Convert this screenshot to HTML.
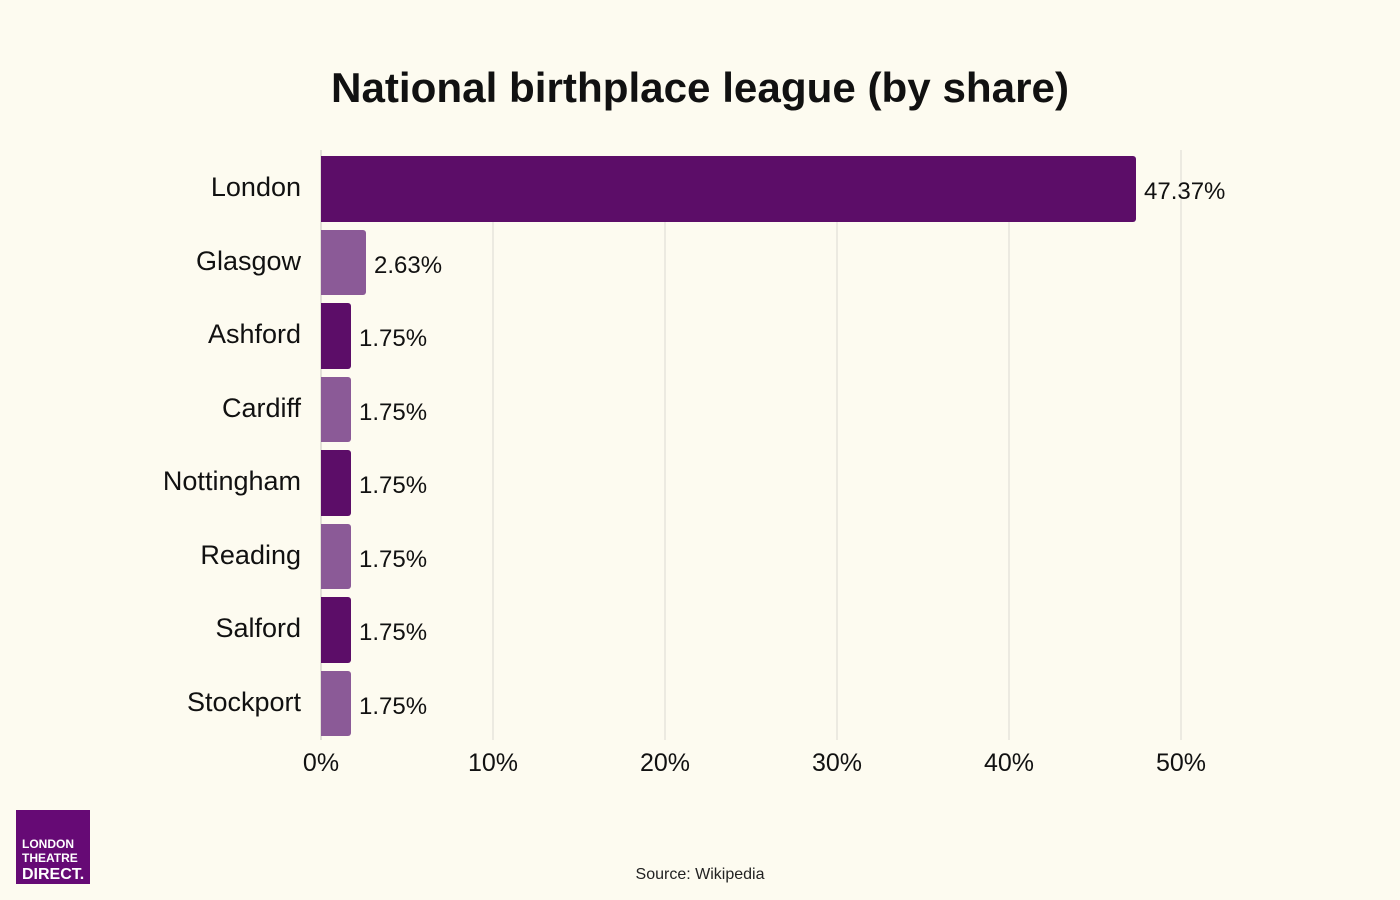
<!DOCTYPE html>
<html><head><meta charset="utf-8"><style>
html,body{margin:0;padding:0;background:#fdfbf0;}
svg{display:block;font-family:"Liberation Sans",sans-serif;}
</style></head><body>
<svg width="1400" height="900" viewBox="0 0 1400 900">
<rect width="1400" height="900" fill="#fdfbf0"/>
<text x="700" y="102" text-anchor="middle" font-size="42" font-weight="bold" fill="#111" textLength="738" lengthAdjust="spacingAndGlyphs">National birthplace league (by share)</text>
<g stroke="#dcdad2" stroke-width="1">
<line x1="493" y1="222" x2="493" y2="740"/>
<line x1="665" y1="222" x2="665" y2="740"/>
<line x1="837" y1="222" x2="837" y2="740"/>
<line x1="1009" y1="222" x2="1009" y2="740"/>
<line x1="1181" y1="150" x2="1181" y2="740"/>
</g>
<line x1="321" y1="150" x2="321" y2="740" stroke="#c8c6be" stroke-width="1"/>
<g>
<path d="M321 156 H1133 a3 3 0 0 1 3 3 V219 a3 3 0 0 1 -3 3 H321Z" fill="#5c0d68"/>
<path d="M321 230 H363 a3 3 0 0 1 3 3 V292 a3 3 0 0 1 -3 3 H321Z" fill="#8b5a97"/>
<path d="M321 303 H348 a3 3 0 0 1 3 3 V366 a3 3 0 0 1 -3 3 H321Z" fill="#5c0d68"/>
<path d="M321 377 H348 a3 3 0 0 1 3 3 V439 a3 3 0 0 1 -3 3 H321Z" fill="#8b5a97"/>
<path d="M321 450 H348 a3 3 0 0 1 3 3 V513 a3 3 0 0 1 -3 3 H321Z" fill="#5c0d68"/>
<path d="M321 524 H348 a3 3 0 0 1 3 3 V586 a3 3 0 0 1 -3 3 H321Z" fill="#8b5a97"/>
<path d="M321 597 H348 a3 3 0 0 1 3 3 V660 a3 3 0 0 1 -3 3 H321Z" fill="#5c0d68"/>
<path d="M321 671 H348 a3 3 0 0 1 3 3 V733 a3 3 0 0 1 -3 3 H321Z" fill="#8b5a97"/>
</g>
<g font-size="27" fill="#111" text-anchor="end">
<text x="301" y="196">London</text>
<text x="301" y="270">Glasgow</text>
<text x="301" y="343">Ashford</text>
<text x="301" y="417">Cardiff</text>
<text x="301" y="490">Nottingham</text>
<text x="301" y="564">Reading</text>
<text x="301" y="637">Salford</text>
<text x="301" y="711">Stockport</text>
</g>
<g font-size="24" fill="#111">
<text x="1144" y="199">47.37%</text>
<text x="374" y="273">2.63%</text>
<text x="359" y="346">1.75%</text>
<text x="359" y="420">1.75%</text>
<text x="359" y="493">1.75%</text>
<text x="359" y="567">1.75%</text>
<text x="359" y="640">1.75%</text>
<text x="359" y="714">1.75%</text>
</g>
<g font-size="25" fill="#111" text-anchor="middle">
<text x="321" y="771">0%</text>
<text x="493" y="771">10%</text>
<text x="665" y="771">20%</text>
<text x="837" y="771">30%</text>
<text x="1009" y="771">40%</text>
<text x="1181" y="771">50%</text>
</g>
<rect x="16" y="810" width="74" height="74" fill="#660a75"/>
<g fill="#fff" font-weight="bold" font-size="12">
<text x="22" y="848">LONDON</text>
<text x="22" y="862">THEATRE</text>
<text x="22" y="879" font-size="16">DIRECT.</text>
</g>
<text x="700" y="879" text-anchor="middle" font-size="16" fill="#222">Source: Wikipedia</text>
</svg>
</body></html>
